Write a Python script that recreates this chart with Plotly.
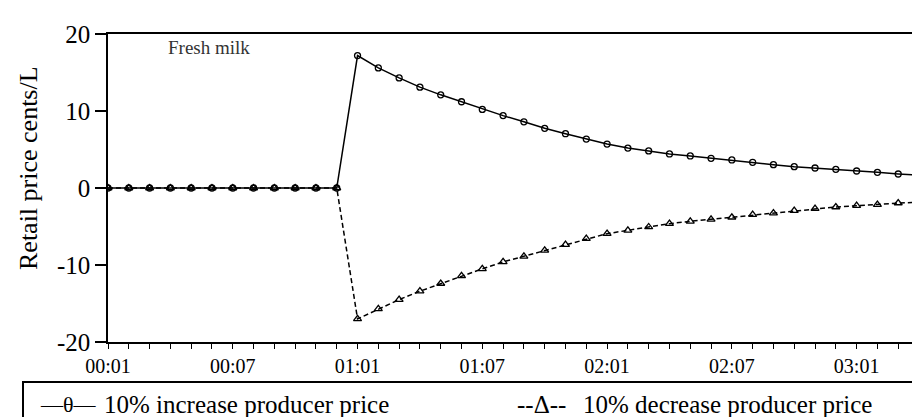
import plotly.graph_objects as go

# ---- data ----
years = ["00", "01", "02", "03"]
months = ["01", "02", "03", "04", "05", "06", "07", "08", "09", "10", "11", "12"]
periods = [f"{y}:{m}" for y in years for m in months][:40]

increase = [0, 0, 0, 0, 0, 0, 0, 0, 0, 0, 0, 0,
            17.2, 15.6, 14.3, 13.1, 12.1, 11.2, 10.2, 9.4, 8.6, 7.75,
            7.05, 6.36, 5.71, 5.19, 4.81, 4.42, 4.16, 3.86, 3.64, 3.34,
            3.03, 2.77, 2.60, 2.43, 2.21, 2.04, 1.82, 1.65]
decrease = [0, 0, 0, 0, 0, 0, 0, 0, 0, 0, 0, 0,
            -17.0, -15.7, -14.5, -13.4, -12.4, -11.4, -10.5, -9.6, -8.87, -8.1,
            -7.36, -6.58, -5.93, -5.5, -5.06, -4.63, -4.33, -4.07, -3.8, -3.46,
            -3.25, -2.94, -2.68, -2.47, -2.29, -2.16, -1.95, -1.82]

x_tick_labels = ["00:01", "00:07", "01:01", "01:07", "02:01", "02:07", "03:01"]
y_tick_vals = [-20, -10, 0, 10, 20]
y_tick_labels = ["-20", "-10", "0", "10", "20"]

series_names = ["10% increase producer price", "10% decrease producer price"]
legend_symbols = ["\u2014\u03b8\u2014", "--\u0394--"]
panel_title = "Fresh milk"
y_title = "Retail price cents/L"

# ---- figure ----
xs = list(range(len(periods)))
x_tick_vals = [periods.index(t) for t in x_tick_labels]

FONT = "Liberation Serif, Times New Roman, serif"

fig = go.Figure()
fig.add_trace(go.Scatter(
    x=xs, y=increase, mode="lines+markers", name=series_names[0],
    line=dict(color="black", width=1.5),
    marker=dict(symbol="circle-open", size=6, color="black", line=dict(width=1.3)),
))
fig.add_trace(go.Scatter(
    x=xs, y=decrease, mode="lines+markers", name=series_names[1],
    line=dict(color="black", width=1.5, dash="5px,3px"),
    marker=dict(symbol="triangle-up-open", size=7, color="black", line=dict(width=1.3)),
))

W, H = 920, 417
L, R, T, B = 100, 9, 26, 83
pw, ph = W - L - R, H - T - B


def px_x(p):
    return (p - L) / pw


def px_y(p):
    return (H - B - p) / ph


fig.update_layout(
    template="none",
    width=W, height=H,
    margin=dict(l=L, r=R, t=T, b=B),
    paper_bgcolor="white", plot_bgcolor="white",
    showlegend=False,
    font=dict(family=FONT, color="black"),
    xaxis=dict(
        range=[0, len(periods) - 1],
        tickmode="array", tickvals=x_tick_vals, ticktext=x_tick_labels,
        ticks="outside", ticklen=5, tickwidth=1, tickcolor="black",
        minor=dict(tickmode="linear", tick0=0, dtick=1, ticks="outside",
                   ticklen=5, tickwidth=1, tickcolor="black", showgrid=False),
        showline=True, linecolor="black", linewidth=1.5, mirror=True,
        showgrid=False, zeroline=False,
        tickfont=dict(size=20, family=FONT, color="black"),
    ),
    yaxis=dict(
        range=[-20, 20],
        tickmode="array", tickvals=y_tick_vals, ticktext=y_tick_labels,
        ticks="outside", ticklen=11, tickwidth=1.5, tickcolor="black",
        showline=True, linecolor="black", linewidth=1.5, mirror=True,
        showgrid=False, zeroline=False,
        tickfont=dict(size=25, family=FONT, color="black"),
    ),
)

# y-axis title
fig.add_annotation(
    text=y_title, xref="paper", yref="paper",
    x=px_x(20), y=px_y(160), xanchor="center", yanchor="middle",
    textangle=-90, showarrow=False, font=dict(size=26, family=FONT),
)
# panel title
fig.add_annotation(
    text=panel_title, xref="paper", yref="paper",
    x=px_x(158), y=px_y(40), xanchor="left", yanchor="middle",
    showarrow=False, font=dict(size=19, family=FONT, color="#333"),
)

# legend box
fig.add_shape(
    type="rect", xref="paper", yref="paper",
    x0=px_x(15), x1=px_x(940), y0=px_y(440), y1=px_y(374),
    line=dict(color="black", width=2), fillcolor="rgba(0,0,0,0)",
)
legend_y = px_y(396)
for sym, name, xs_px, xt_px in [(legend_symbols[0], series_names[0], 30, 94),
                                (legend_symbols[1], series_names[1], 507, 573)]:
    fig.add_annotation(
        text=sym, xref="paper", yref="paper", x=px_x(xs_px), y=legend_y,
        xanchor="left", yanchor="middle", showarrow=False,
        font=dict(size=22 if sym == legend_symbols[0] else 25, family=FONT),
    )
    fig.add_annotation(
        text=name, xref="paper", yref="paper", x=px_x(xt_px), y=legend_y,
        xanchor="left", yanchor="middle", showarrow=False,
        font=dict(size=25, family=FONT),
    )

fig.write_html("out.html")
